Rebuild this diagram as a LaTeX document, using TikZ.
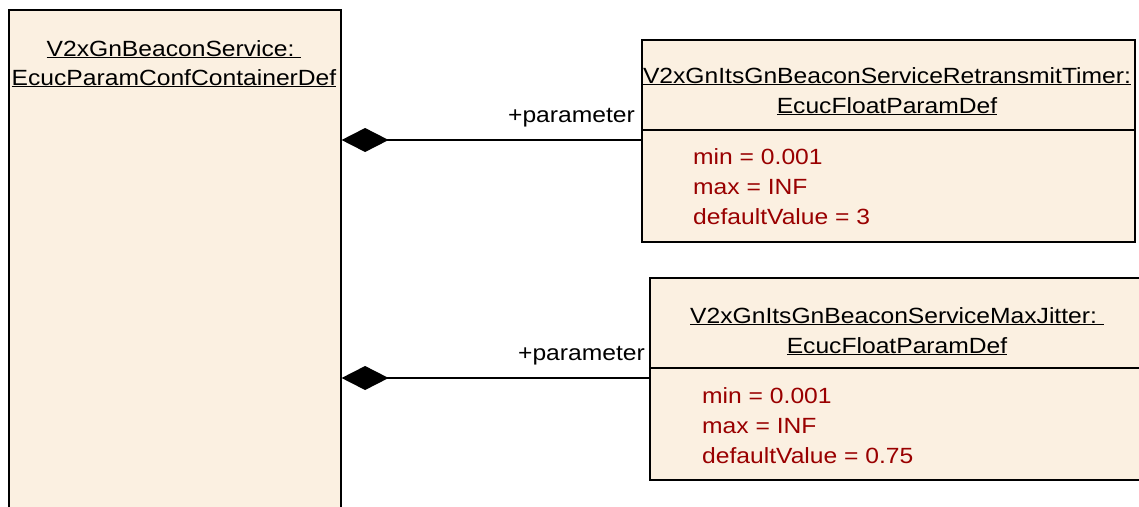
\documentclass[tikz,border=0pt]{standalone}
\usepackage{fontspec}
\setmainfont{Liberation Sans}[FakeStretch=1.12]
\usetikzlibrary{arrows.meta}
\definecolor{boxfill}{RGB}{251,240,225}
\definecolor{attrred}{RGB}{153,0,0}
\tikzset{
  umlbox/.style={draw=black, fill=boxfill, line width=1.6pt, rectangle, inner sep=0pt},
  sepline/.style={line width=1.4pt},
  txt/.style={inner sep=0pt, font=\fontsize{22}{29}\selectfont},
  attr/.style={txt, text=attrred, anchor=base west},
  comp/.style={line width=1.5pt, {Diamond[length=47pt,width=24pt,fill=black]}-},
}
\begin{document}
\begin{tikzpicture}[x=1pt,y=-1pt]
\useasboundingbox (0,0) rectangle (1139,506);
\clip (0,0) rectangle (1139,506);
% left container
\node[umlbox, minimum width=332pt, minimum height=530pt, anchor=north west] (L) at (8,9) {};
\node[txt, anchor=base] (L1) at (174,56) {\underline{V2xGnBeaconService:\ }};
\node[txt, anchor=base] (L2) at (174,85) {\underline{EcucParamConfContainerDef}};
% top right
\node[umlbox, minimum width=493pt, minimum height=202pt, anchor=north west] (R1) at (641,39) {};
\draw[sepline] (R1.west |- 0,130) -- (R1.east |- 0,130);
\node[txt, anchor=base] (R1a) at (887,83) {\underline{V2xGnItsGnBeaconServiceRetransmitTimer:}};
\node[txt, anchor=base] (R1b) at (887,113) {\underline{EcucFloatParamDef}};
\node[attr] (R1c) at (693,164) {min = 0.001};
\node[attr] (R1d) at (693,194) {max = INF};
\node[attr] (R1e) at (693,224) {defaultValue = 3};
% bottom right
\node[umlbox, minimum width=496pt, minimum height=202pt, anchor=north west] (R2) at (649,277) {};
\draw[sepline] (R2.west |- 0,368) -- (R2.east |- 0,368);
\node[txt, anchor=base] (R2a) at (897,323) {\underline{V2xGnItsGnBeaconServiceMaxJitter:\ }};
\node[txt, anchor=base] (R2b) at (897,353) {\underline{EcucFloatParamDef}};
\node[attr] (R2c) at (702,403) {min = 0.001};
\node[attr] (R2d) at (702,433) {max = INF};
\node[attr] (R2e) at (702,463) {defaultValue = 0.75};
% connectors
\draw[comp] (L.east |- 0,140) -- (R1.west |- 0,140);
\draw[comp] (L.east |- 0,378) -- (R2.west |- 0,378);
\node[txt, anchor=base east] (P1) at (635,122) {+parameter};
\node[txt, anchor=base east] (P2) at (645,360) {+parameter};
\end{tikzpicture}
\end{document}
